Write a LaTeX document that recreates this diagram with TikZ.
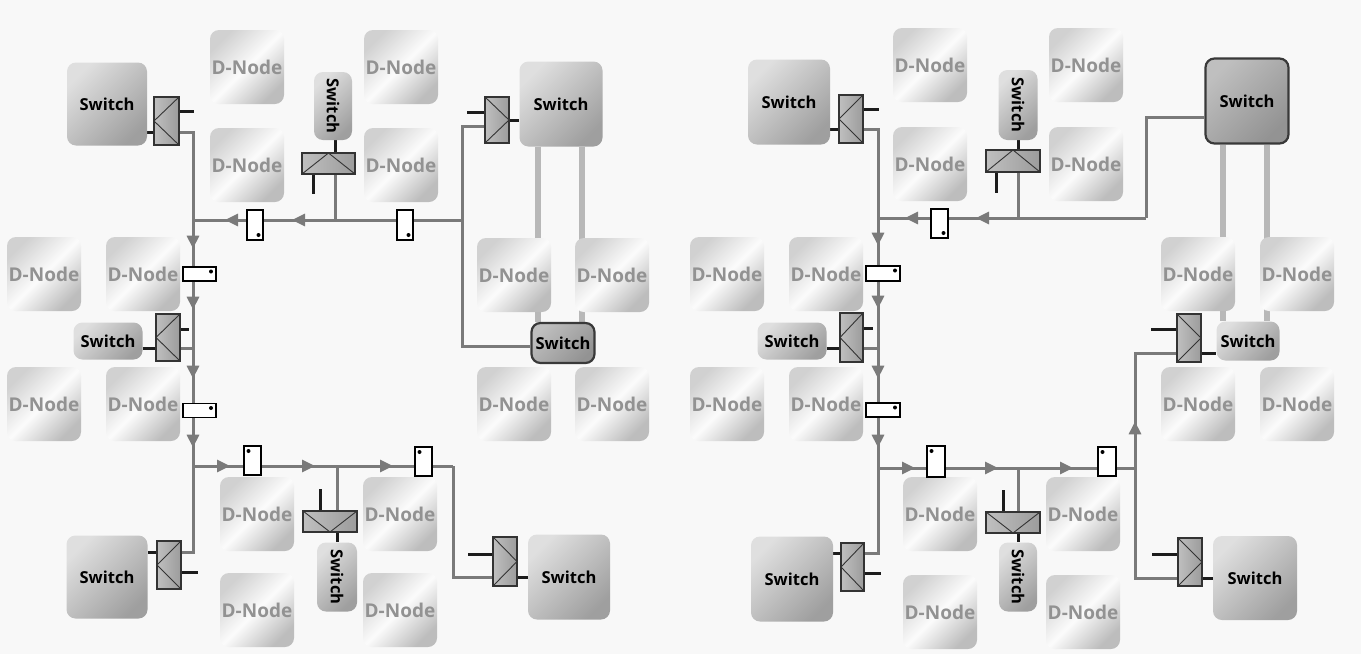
\documentclass[tikz,border=0pt]{standalone}
\usepackage{fontspec}
\setmainfont{Open Sans}
\usetikzlibrary{arrows.meta,decorations.markings,calc}
\definecolor{busc}{HTML}{7A7A7A}
\definecolor{thickc}{HTML}{B8B8B8}
\definecolor{pinc}{HTML}{1C1C1C}
\definecolor{dtext}{HTML}{929292}
\definecolor{bgc}{HTML}{F8F8F8}
\definecolor{cplborder}{HTML}{333333}
\pgfdeclarelayer{bglayer}
\pgfdeclarelayer{thicklayer}
\pgfdeclarelayer{buslayer}
\pgfsetlayers{bglayer,thicklayer,buslayer,main}
\newcommand\flowtip{\arrow{Triangle[length=13pt,width=12pt]}}
\tikzset{
  dnode/.style={rectangle, rounded corners=9pt, minimum width=74pt, minimum height=74pt, inner sep=0pt,
     top color=gray!36, bottom color=gray!52, middle color=white!97!gray, shading angle=45,
     text=dtext, font=\bfseries\fontsize{19}{19}\selectfont},
  sw/.style={rectangle, rounded corners=9pt, inner sep=0pt, top color=gray!25, bottom color=gray!75,
     shading angle=45, text=black, font=\bfseries\fontsize{16.5}{16.5}\selectfont},
  swdark/.style={sw, top color=gray!50, bottom color=gray!85, shading angle=45, draw=gray!45!black, line width=2.2pt},
  cpl/.style={rectangle, draw=cplborder, line width=1.3pt, inner sep=0pt, left color=gray!50, right color=gray!78},
  cplL/.style={cpl, path picture={\draw[cplborder, line width=0.9pt] (path picture bounding box.north east) -- (path picture bounding box.west) -- (path picture bounding box.south east);}},
  cplR/.style={cpl, path picture={\draw[cplborder, line width=0.9pt] (path picture bounding box.north west) -- (path picture bounding box.east) -- (path picture bounding box.south west);}},
  cplU/.style={cpl, path picture={\draw[cplborder, line width=0.9pt] (path picture bounding box.south west) -- (path picture bounding box.north) -- (path picture bounding box.south east);}},
  cplD/.style={cpl, path picture={\draw[cplborder, line width=0.9pt] (path picture bounding box.north west) -- (path picture bounding box.south) -- (path picture bounding box.north east);}},
  tapbox/.style={rectangle, draw=black, line width=1.4pt, fill=white, inner sep=0pt},
  tapBR/.style={tapbox, path picture={\fill[black] ([shift={(-4.5pt,5pt)}]path picture bounding box.south east) circle (2pt);}},
  tapTR/.style={tapbox, path picture={\fill[black] ([shift={(-5pt,-4.5pt)}]path picture bounding box.north east) circle (2pt);}},
  tapTL/.style={tapbox, path picture={\fill[black] ([shift={(4.5pt,-5pt)}]path picture bounding box.north west) circle (2pt);}},
  busline/.style={draw=busc, line width=3pt},
  pinline/.style={draw=pinc, line width=3pt},
  thickline/.style={draw=thickc, line width=6pt},
  flow/.style={postaction={decorate}},
}
\begin{document}
\begin{tikzpicture}[x=1pt,y=-1pt]
\useasboundingbox (0,0) rectangle (1361,654);
\begin{pgfonlayer}{bglayer}
\fill[bgc] (0,0) rectangle (1361,654);
\end{pgfonlayer}

% ---------- D-Node tiles ----------
\foreach \n/\x/\y in {1/247/67, 2/401/67, 3/247/165, 4/401/165, 5/44/274, 6/143/274, 7/44/404, 8/143/404,
  9/514/275, 10/612/275, 11/514/404, 12/612/404, 13/257/514, 14/400/514, 15/257/610, 16/400/610}
  \node[dnode] (tL\n) at (\x,\y) {D-Node};
\foreach \n/\x/\y in {1/930/65, 2/1086/65, 3/930/164, 4/1086/164, 5/727/274, 6/826/274, 7/727/404, 8/826/404,
  9/1198/274, 10/1297/274, 11/1198/404, 12/1297/404, 13/940/514, 14/1083/514, 15/940/612, 16/1083/612}
  \node[dnode] (tR\n) at (\x,\y) {D-Node};

% ---------- Switches (left) ----------
\node[sw, minimum width=80pt, minimum height=83pt] (sL1) at (107,104) {Switch};
\node[sw, minimum width=38pt, minimum height=68pt] (sL2) at (333,106) {\rotatebox{-90}{Switch}};
\node[sw, minimum width=83pt, minimum height=85pt] (sL3) at (561,104) {Switch};
\node[swdark, minimum width=63pt, minimum height=40pt] (sL4) at (563,343) {Switch};
\node[sw, minimum width=69pt, minimum height=37pt] (sL5) at (108,341) {Switch};
\node[sw, minimum width=81pt, minimum height=83pt] (sL6) at (107,577) {Switch};
\node[sw, minimum width=40pt, minimum height=69pt] (sL7) at (337,577) {\rotatebox{-90}{Switch}};
\node[sw, minimum width=82pt, minimum height=85pt] (sL8) at (569,577) {Switch};

% ---------- Switches (right) ----------
\node[sw, minimum width=82pt, minimum height=85pt] (sR1) at (789,102) {Switch};
\node[sw, minimum width=39pt, minimum height=70pt] (sR2) at (1018,105) {\rotatebox{-90}{Switch}};
\node[swdark, minimum width=83pt, minimum height=85pt] (sR3) at (1247,101) {Switch};
\node[sw, minimum width=63pt, minimum height=39pt] (sR4) at (1248,341) {Switch};
\node[sw, minimum width=69pt, minimum height=37pt] (sR5) at (792,341) {Switch};
\node[sw, minimum width=82pt, minimum height=85pt] (sR6) at (792,579) {Switch};
\node[sw, minimum width=38pt, minimum height=69pt] (sR7) at (1018,577) {\rotatebox{-90}{Switch}};
\node[sw, minimum width=84pt, minimum height=84pt] (sR8) at (1255,578) {Switch};

% ---------- Couplers ----------
\node[cplL, minimum width=25pt, minimum height=48pt] (cL1) at (166.5,121) {};
\node[cplU, minimum width=53pt, minimum height=21pt] (cL2) at (328.5,163.5) {};
\node[cplR, minimum width=24pt, minimum height=46pt] (cL3) at (497,120) {};
\node[cplL, minimum width=24pt, minimum height=47pt] (cL4) at (168,337.5) {};
\node[cplD, minimum width=54pt, minimum height=21pt] (cL5) at (330,521.5) {};
\node[cplL, minimum width=24pt, minimum height=48pt] (cL6) at (169,565) {};
\node[cplR, minimum width=24pt, minimum height=49pt] (cL7) at (505,561.5) {};

\node[cplL, minimum width=24pt, minimum height=48pt] (cR1) at (851,119) {};
\node[cplU, minimum width=54pt, minimum height=22pt] (cR2) at (1013,161) {};
\node[cplR, minimum width=24pt, minimum height=48pt] (cR3) at (1189,338) {};
\node[cplL, minimum width=23pt, minimum height=49pt] (cR4) at (851.5,337.5) {};
\node[cplD, minimum width=54pt, minimum height=21pt] (cR5) at (1013,522.5) {};
\node[cplL, minimum width=23pt, minimum height=48pt] (cR6) at (852.5,567) {};
\node[cplR, minimum width=24pt, minimum height=48pt] (cR7) at (1190,562) {};

% ---------- Tap markers ----------
\node[tapBR, minimum width=16pt, minimum height=30pt] (mL1) at (255,225) {};
\node[tapBR, minimum width=16pt, minimum height=30pt] (mL2) at (405,225) {};
\node[tapTR, minimum width=33pt, minimum height=14pt] (mL3) at (199.5,274) {};
\node[tapTR, minimum width=33pt, minimum height=14pt] (mL4) at (199.5,410.5) {};
\node[tapTL, minimum width=17pt, minimum height=29pt] (mL5) at (252.5,460.5) {};
\node[tapTL, minimum width=17pt, minimum height=29pt] (mL6) at (423.5,461.5) {};

\node[tapBR, minimum width=17pt, minimum height=29pt] (mR1) at (939.5,223.5) {};
\node[tapTR, minimum width=34pt, minimum height=15pt] (mR2) at (883,273.5) {};
\node[tapTR, minimum width=34pt, minimum height=14pt] (mR3) at (883,410) {};
\node[tapTL, minimum width=18pt, minimum height=31pt] (mR4) at (936,461.5) {};
\node[tapTL, minimum width=18pt, minimum height=29pt] (mR5) at (1107,461.5) {};

% ---------- Junction coordinates ----------
\coordinate (aL1) at (193,132);  \coordinate (aL2) at (193,220);
\coordinate (aL3) at (335,220);  \coordinate (aL4) at (462,220);
\coordinate (aL5) at (462,126);  \coordinate (aL6) at (462,346);
\coordinate (aL7) at (193,348);  \coordinate (aL8) at (193,466);
\coordinate (aL9) at (337,466);  \coordinate (aL10) at (453,466);
\coordinate (aL11) at (453,577); \coordinate (aL12) at (193,552);

\coordinate (aR1) at (878,129);  \coordinate (aR2) at (878,218);
\coordinate (aR3) at (1018,218); \coordinate (aR4) at (1146,218);
\coordinate (aR5) at (1146,117); \coordinate (aR6) at (878,348);
\coordinate (aR7) at (878,468);  \coordinate (aR8) at (1018,468);
\coordinate (aR9) at (1135,468); \coordinate (aR10) at (1135,353);
\coordinate (aR11) at (1135,578);\coordinate (aR12) at (878,553);

% ---------- Thick links ----------
\begin{pgfonlayer}{thicklayer}
\draw[thickline] ([xshift=-23pt]sL3.south) -- ([xshift=-23pt]sL3.south |- sL4.north);
\draw[thickline] ([xshift=21pt]sL3.south) -- ([xshift=21pt]sL3.south |- sL4.north);
\draw[thickline] ([xshift=-24pt]sR3.south) -- ([xshift=-24pt]sR3.south |- sR4.north);
\draw[thickline] ([xshift=20pt]sR3.south) -- ([xshift=20pt]sR3.south |- sR4.north);
\end{pgfonlayer}

% ---------- Bus lines ----------
\begin{pgfonlayer}{buslayer}
% left diagram
\draw[busline, flow, decoration={markings, mark=at position 130pt with {\flowtip}, mark=at position 191pt with {\flowtip},
   mark=at position 260pt with {\flowtip}, mark=at position 329pt with {\flowtip}}]
  (cL1.east |- aL1) -- (aL1) -- (aL12) -- (cL6.east |- aL12);
\draw[busline, flow, decoration={markings, mark=at position 170pt with {\flowtip}, mark=at position 237pt with {\flowtip}}]
  (aL4) -- (aL2);
\draw[busline] (aL3 |- cL2.south) -- (aL3);
\draw[busline] (cL3.west |- aL5) -- (aL5) -- (aL6) -- (sL4.west |- aL6);
\draw[busline] (cL4.east |- aL7) -- (aL7);
\draw[busline, flow, decoration={markings, mark=at position 37pt with {\flowtip}, mark=at position 122pt with {\flowtip},
   mark=at position 200pt with {\flowtip}}]
  (aL8) -- (aL10);
\draw[busline] (aL9) -- (aL9 |- cL5.north);
\draw[busline] (aL10) -- (aL11) -- (cL7.west |- aL11);
% right diagram
\draw[busline, flow, decoration={markings, mark=at position 131pt with {\flowtip}, mark=at position 194pt with {\flowtip},
   mark=at position 264pt with {\flowtip}, mark=at position 333pt with {\flowtip}}]
  (cR1.east |- aR1) -- (aR1) -- (aR12) -- (cR6.east |- aR12);
\draw[busline, flow, decoration={markings, mark=at position 170pt with {\flowtip}, mark=at position 241pt with {\flowtip}}]
  (aR4) -- (aR2);
\draw[busline] (aR3 |- cR2.south) -- (aR3);
\draw[busline] (aR4) -- (aR5) -- (sR3.west |- aR5);
\draw[busline] (cR4.east |- aR6) -- (aR6);
\draw[busline, flow, decoration={markings, mark=at position 37pt with {\flowtip}, mark=at position 120pt with {\flowtip},
   mark=at position 195pt with {\flowtip}}]
  (aR7) -- (aR9);
\draw[busline] (aR8) -- (aR8 |- cR5.north);
\draw[busline, flow, decoration={markings, mark=at position 199pt with {\flowtip}}]
  (cR7.west |- aR11) -- (aR11) -- (aR10) -- (cR3.west |- aR10);

% ---------- Switch-coupler links and pins ----------
\draw[pinline] (sL1.east |- aL1) -- (cL1.west |- aL1);
\draw[pinline] (aL3 |- sL2.south) -- (aL3 |- cL2.north);
\draw[pinline] (cL3.east) -- (cL3.east -| sL3.west);
\draw[pinline] (sL5.east |- aL7) -- (cL4.west |- aL7);
\draw[pinline] (aL9 |- cL5.south) -- (aL9 |- sL7.north);
\draw[pinline] (sL6.east |- aL12) -- (cL6.west |- aL12);
\draw[pinline] (cL7.east |- sL8.west) -- (sL8.west);
\draw[pinline] ($(cL1.east)+(0,-10)$) -- ++(14,0);
\draw[pinline] ($(cL2.south)+(-15.5,0)$) -- ++(0,19);
\draw[pinline] ($(cL3.west)+(0,-8)$) -- ++(-17,0);
\draw[pinline] ($(cL4.east)+(0,-8.5)$) -- ++(8,0);
\draw[pinline] ($(cL5.north)+(-10,0)$) -- ++(0,-21);
\draw[pinline] ($(cL6.east)+(0,7)$) -- ++(16,0);
\draw[pinline] ($(cL7.west)+(0,-7.5)$) -- ++(-24,0);

\draw[pinline] (sR1.east |- aR1) -- (cR1.west |- aR1);
\draw[pinline] (aR3 |- sR2.south) -- (aR3 |- cR2.north);
\draw[pinline] (cR3.east |- aR10) -- (sR4.west |- aR10);
\draw[pinline] (sR5.east |- aR6) -- (cR4.west |- aR6);
\draw[pinline] (aR8 |- cR5.south) -- (aR8 |- sR7.north);
\draw[pinline] (sR6.east |- aR12) -- (cR6.west |- aR12);
\draw[pinline] (cR7.east |- sR8.west) -- (sR8.west);
\draw[pinline] ($(cR1.east)+(0,-10)$) -- ++(15,0);
\draw[pinline] ($(cR2.south)+(-17,0)$) -- ++(0,20);
\draw[pinline] ($(cR3.west)+(0,-9)$) -- ++(-25,0);
\draw[pinline] ($(cR4.east)+(0,-9.5)$) -- ++(9,0);
\draw[pinline] ($(cR5.north)+(-10,0)$) -- ++(0,-21);
\draw[pinline] ($(cR6.east)+(0,6)$) -- ++(16,0);
\draw[pinline] ($(cR7.west)+(0,-8)$) -- ++(-25,0);
\end{pgfonlayer}
\end{tikzpicture}
\end{document}
